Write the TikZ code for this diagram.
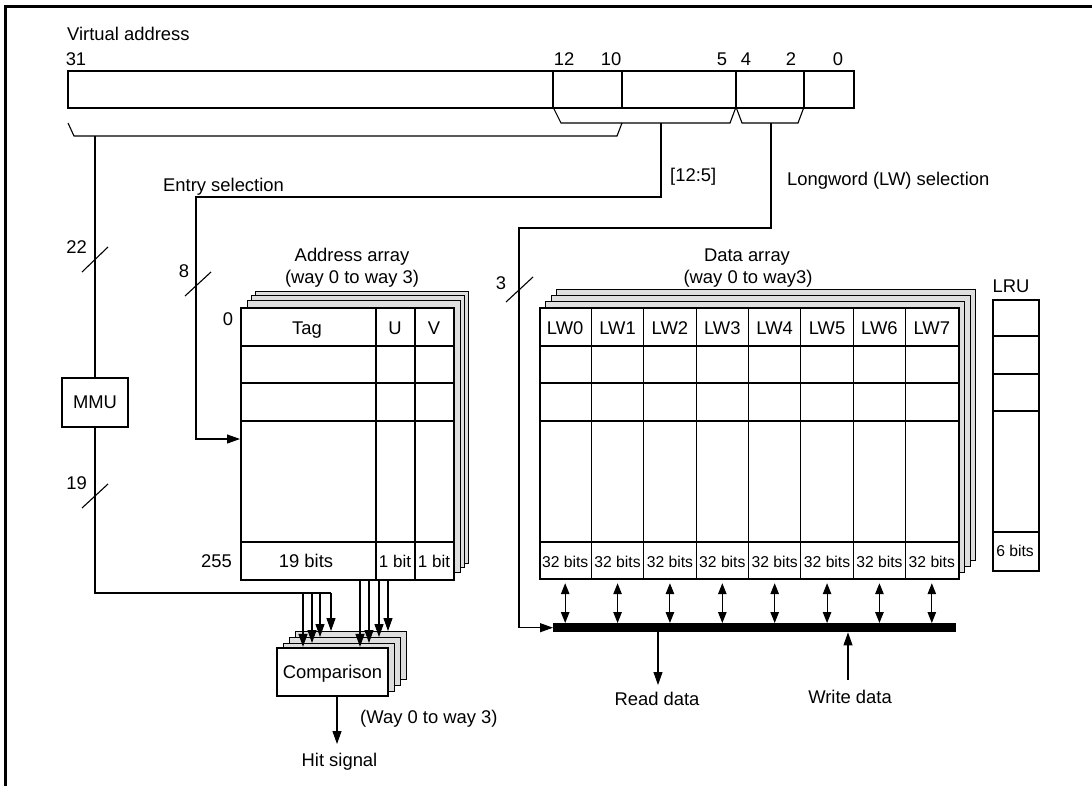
\documentclass[tikz,border=0pt]{standalone}
\usepackage{fontspec}
\setmainfont{Liberation Sans}
\usetikzlibrary{arrows.meta}
\begin{document}
\begin{tikzpicture}[x=1pt,y=-1pt,
  font=\fontsize{18.4}{21}\selectfont,
  ln/.style={line width=1.1pt},
  bx/.style={draw,line width=2.2pt,fill=white,inner sep=0pt,anchor=north west},
  sheet/.style={draw,line width=1pt,fill=black!13,inner sep=0pt,anchor=north west},
  arr/.style={line width=1.1pt,-{Triangle[length=13pt,width=9pt]}},
  darr/.style={line width=1.1pt,{Triangle[length=11pt,width=8.5pt]}-{Triangle[length=11pt,width=8.5pt]}},
  tx/.style={inner sep=0pt,anchor=base},
  txl/.style={inner sep=0pt,anchor=base west},
  txr/.style={inner sep=0pt,anchor=base east},
  sm/.style={font=\fontsize{15.7}{18}\selectfont},
]
\useasboundingbox (0,0) rectangle (1092,785);
% frame
\draw[line width=2.5pt] (5.5,790) -- (5.5,6.5) -- (1100,6.5);

% ---------- virtual address register ----------
\node[txl] (va) at (67,40) {Virtual address};
\node[bx,minimum width=786pt,minimum height=37pt] (reg) at (67,70) {};
\foreach \x in {553,622,736,804} \draw[ln] (\x,70) -- (\x,107);
\node[tx] (b31) at (76,65) {31};
\node[tx] (b12) at (564,65) {12};
\node[tx] (b10) at (611,65) {10};
\node[tx] (b5) at (722,65) {5};
\node[tx] (b4) at (746,65) {4};
\node[tx] (b2) at (791,65) {2};
\node[tx] (b0) at (838,65) {0};

% brackets
\draw[ln] (68,123) -- (74,136) -- (617,136) -- (622,123);
\draw[ln] (553,107) -- (561,123) -- (730,123) -- (736,107) -- (742,123) -- (798,123) -- (804,107);
\coordinate (sA) at (95,136);
\coordinate (sB) at (661,123);
\coordinate (sC) at (771,123);

% labels
\node[txl] (entry) at (163,191) {Entry selection};
\node[txl] (rng) at (670,181) {[12:5]};
\node[txl] (lwsel) at (787,185) {Longword (LW) selection};

% ---------- MMU ----------
\node[bx,anchor=center,minimum width=66pt,minimum height=49pt,text depth=0pt] (mmu) at (95,402.5) {MMU};
\draw[ln] (sA) -- (mmu.north);
\draw[ln] (82,272) -- (108,247);
\node[txr] (n22) at (87,253) {22};
\draw[ln] (82,508) -- (108,484);
\node[txr] (n19) at (87,489) {19};

% ---------- address array ----------
\node[tx] (aat1) at (352,261) {Address array};
\node[tx] (aat2) at (352,283) {(way 0 to way 3)};
\foreach \d/\e in {15/16,11/12,7/7}
  \node[sheet,minimum width=213pt,minimum height=272pt] at (240+\d,307-\e) {};
\node[bx,minimum width=213pt,minimum height=272pt] (aa) at (240,307) {};
\foreach \y in {346,383,421,542} \draw[ln] (240,\y) -- (453,\y);
\draw[ln] (376,307) -- (376,579);
\draw[ln] (415,307) -- (415,579);
\node[tx] (tag) at (307,334) {Tag};
\node[tx] (uu) at (395,334) {U};
\node[tx] (vv) at (434,334) {V};
\node[tx] (b19) at (306,567) {19 bits};
\node[tx,font=\fontsize{17}{20}\selectfont] (b1u) at (395,567) {1 bit};
\node[tx,font=\fontsize{17}{20}\selectfont] (b1v) at (434,567) {1 bit};
\node[tx] (r0) at (228,325) {0};
\node[txr] (r255) at (232,567) {255};

% entry selection path
\draw[arr] (sB) |- (196,197) |- (aa.west |- 0,439);
\draw[ln] (185,296) -- (211,272);
\node[tx] (n8) at (184,277) {8};

% ---------- data array ----------
\node[tx] (dat1) at (747,261) {Data array};
\node[tx] (dat2) at (748,283) {(way 0 to way3)};
\foreach \d/\e in {17/18,12/12,6/6}
  \node[sheet,minimum width=419pt,minimum height=271pt] at (539+\d,307-\e) {};
\node[bx,minimum width=419pt,minimum height=271pt] (da) at (539,307) {};
\foreach \y in {346,383,421,542} \draw[ln] (539,\y) -- (958,\y);
\foreach \i in {1,...,7} \draw[ln] ({539+52.375*\i},307) -- ({539+52.375*\i},578);
\foreach \i in {0,...,7} {
  \node[tx] (lw\i) at ({539+52.375*(\i+0.5)},334) {LW\i};
  \node[tx,sm] (bits\i) at ({539+52.375*(\i+0.5)},567) {32 bits};
}

% ---------- LRU ----------
\node[tx] (lrut) at (1011,292) {LRU};
\node[bx,minimum width=46pt,minimum height=271pt] (lru) at (992,299) {};
\foreach \y in {336,374,411,532} \draw[ln] (992,\y) -- (1038,\y);
\node[tx,sm] (b6) at (1015,556) {6 bits};

% ---------- data bus ----------
\node[fill=black,inner sep=0pt,minimum width=403pt,minimum height=9pt,anchor=north west] (bar) at (553,623) {};
\foreach \i in {0,...,7}
  \draw[darr] (da.south -| {539+52.375*(\i+0.5)},0) ++(0,3) -- ({539+52.375*(\i+0.5)},0 |- bar.north);
\draw[arr] (sC) |- (519,228) |- (bar.west);
\draw[ln] (506,302) -- (533,277);
\node[tx] (n3) at (501,289) {3};

\coordinate (rdend) at (658,685);
\coordinate (wrstart) at (848,680);
\draw[arr] (bar.south -| rdend) -- (rdend);
\draw[arr] (wrstart) -- (bar.south -| wrstart);
\node[tx] (rdt) at (657,705) {Read data};
\node[tx] (wrt) at (850,703) {Write data};

% ---------- comparison ----------
\foreach \d/\e [count=\k] in {18/17,12/11,6/5}
  \node[sheet,minimum width=111pt,minimum height=48pt] (cmps\k) at (277+\d,648-\e) {};
\node[bx,minimum width=111pt,minimum height=48pt,text depth=0pt,anchor=center] (cmp) at (332.5,672) {Comparison};
\draw[ln] (mmu.south) |- (331,593);
\draw[arr] (303,593) -- (303,0 |- cmp.north);
\draw[arr] (312,593) -- (312,0 |- cmps3.north);
\draw[arr] (320,593) -- (320,0 |- cmps2.north);
\draw[arr] (331,593) -- (331,0 |- cmps1.north);
\draw[arr] (aa.south -| 360,0) -- (360,0 |- cmp.north);
\draw[arr] (aa.south -| 369,0) -- (369,0 |- cmps3.north);
\draw[arr] (aa.south -| 379,0) -- (379,0 |- cmps2.north);
\draw[arr] (aa.south -| 388,0) -- (388,0 |- cmps1.north);
\node[txl] (ways) at (360,723) {(Way 0 to way 3)};
\coordinate (hitend) at (337,744);
\draw[arr] (cmp.south -| hitend) -- (hitend);
\node[tx] (hit) at (339.5,766) {Hit signal};
\end{tikzpicture}
\end{document}
